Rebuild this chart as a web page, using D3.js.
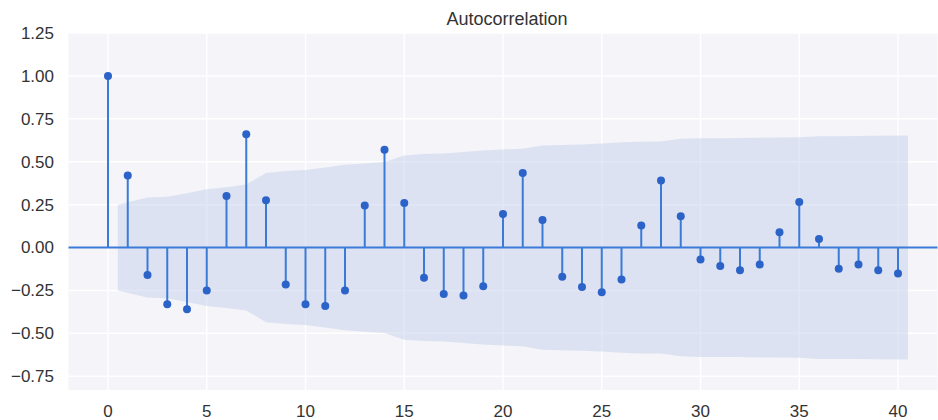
<!DOCTYPE html>
<html>
<head>
<meta charset="utf-8">
<script src="https://cdn.jsdelivr.net/npm/d3@7"></script>
<style>
  html, body { margin: 0; padding: 0; background: #ffffff; }
  svg { display: block; }
  text { font-family: "Liberation Sans", Arial, sans-serif; fill: #333333; }
</style>
</head>
<body>
<svg id="chart" width="938" height="420"></svg>
<script>
// Lags shown on the x axis
const lags = [0, 1, 2, 3, 4, 5, 6, 7, 8, 9, 10, 11, 12, 13, 14, 15, 16, 17, 18, 19, 20,
              21, 22, 23, 24, 25, 26, 27, 28, 29, 30, 31, 32, 33, 34, 35, 36, 37, 38, 39, 40];

// Sample autocorrelation at each lag
const acfValues = [1.00, 0.42, -0.16, -0.33, -0.36, -0.25, 0.30, 0.66, 0.275, -0.215, -0.33,
                   -0.34, -0.25, 0.245, 0.57, 0.26, -0.176, -0.27, -0.28, -0.225, 0.196,
                   0.435, 0.16, -0.17, -0.23, -0.26, -0.186, 0.128, 0.39, 0.182, -0.07,
                   -0.108, -0.132, -0.099, 0.089, 0.266, 0.05, -0.124, -0.099, -0.132, -0.151];

// Half-width of the 95% confidence band for lags 1..40
const confBand = [0.250, 0.291, 0.296, 0.317, 0.340, 0.352, 0.367, 0.435, 0.446, 0.452,
                  0.466, 0.482, 0.490, 0.498, 0.537, 0.545, 0.548, 0.556, 0.565, 0.571,
                  0.575, 0.595, 0.598, 0.601, 0.606, 0.613, 0.617, 0.618, 0.634, 0.637,
                  0.637, 0.638, 0.640, 0.641, 0.642, 0.649, 0.649, 0.650, 0.651, 0.653];

const xTicks = [0, 5, 10, 15, 20, 25, 30, 35, 40];
const yTicks = [-0.75, -0.50, -0.25, 0.00, 0.25, 0.50, 0.75, 1.00, 1.25];

const svg = d3.select("#chart");

const plot = { left: 68.5, right: 937.5, top: 33, bottom: 390 };

const x = d3.scaleLinear().domain([-2, 42]).range([plot.left, plot.right]);
const y = d3.scaleLinear().domain([-0.83, 1.25]).range([plot.bottom, plot.top]);

const stemColor = "#3b7bd8";
const dotColor = "#2c63c9";

// Axes background
svg.append("rect")
  .attr("x", plot.left).attr("y", plot.top)
  .attr("width", plot.right - plot.left).attr("height", plot.bottom - plot.top)
  .attr("fill", "#f4f4f9");

// Grid lines
const grid = svg.append("g");
grid.selectAll("line.gx").data(xTicks).join("line")
  .attr("x1", d => x(d)).attr("x2", d => x(d))
  .attr("y1", plot.top).attr("y2", plot.bottom)
  .attr("stroke", "#ffffff").attr("stroke-width", 1.5);
grid.selectAll("line.gy").data(yTicks).join("line")
  .attr("x1", plot.left).attr("x2", plot.right)
  .attr("y1", d => y(d)).attr("y2", d => y(d))
  .attr("stroke", "#ffffff").attr("stroke-width", 1.5);

// Confidence band: first and last lag stretched by half a step
const bandPts = confBand.map((v, i) => {
  const lag = lags[i + 1];
  let bx = lag;
  if (i === 0) bx = lag - 0.5;
  if (i === confBand.length - 1) bx = lag + 0.5;
  return { x: bx, v: v };
});
const area = d3.area()
  .x(d => x(d.x))
  .y0(d => y(-d.v))
  .y1(d => y(d.v));
svg.append("path")
  .datum(bandPts)
  .attr("d", area)
  .attr("fill", "#c8d4eb")
  .attr("fill-opacity", 0.55);

// Zero line
svg.append("line")
  .attr("x1", plot.left).attr("x2", plot.right)
  .attr("y1", y(0)).attr("y2", y(0))
  .attr("stroke", stemColor).attr("stroke-width", 2);

// Stems
svg.append("g").selectAll("line").data(lags).join("line")
  .attr("x1", d => x(d)).attr("x2", d => x(d))
  .attr("y1", y(0)).attr("y2", (d, i) => y(acfValues[i]))
  .attr("stroke", stemColor).attr("stroke-width", 2);

// Markers
svg.append("g").selectAll("circle").data(lags).join("circle")
  .attr("cx", d => x(d))
  .attr("cy", (d, i) => y(acfValues[i]))
  .attr("r", 4)
  .attr("fill", dotColor);

// Y tick labels
const fmt = d3.format(".2f");
svg.append("g").selectAll("text").data(yTicks).join("text")
  .attr("x", 54)
  .attr("y", d => y(d))
  .attr("dy", "0.35em")
  .attr("text-anchor", "end")
  .style("font-size", "17px")
  .text(d => fmt(d).replace("-", "\u2212"));

// X tick labels
svg.append("g").selectAll("text").data(xTicks).join("text")
  .attr("x", d => x(d))
  .attr("y", 417)
  .attr("text-anchor", "middle")
  .style("font-size", "17px")
  .text(d => d);

// Title
svg.append("text")
  .attr("x", 507)
  .attr("y", 25)
  .attr("text-anchor", "middle")
  .style("font-size", "18px")
  .text("Autocorrelation");
</script>
</body>
</html>
